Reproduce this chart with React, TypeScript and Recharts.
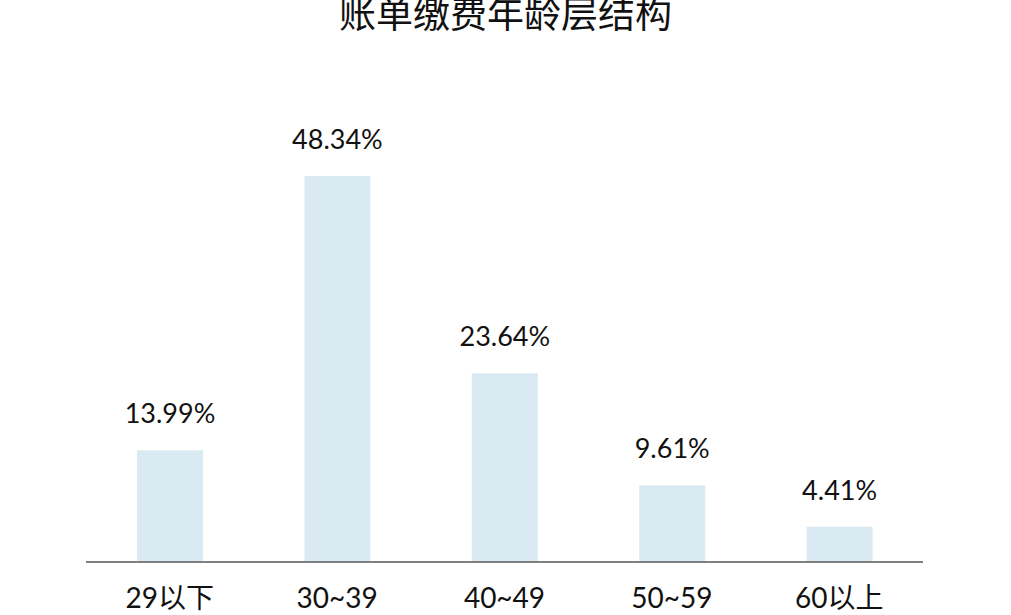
import React from "react";
import { BarChart, Bar, XAxis, YAxis, LabelList } from "recharts";

const categories = ["29以下", "30~39", "40~49", "50~59", "60以上"];
const shares = [13.99, 48.34, 23.64, 9.61, 4.41];
const valueLabels = ["13.99%", "48.34%", "23.64%", "9.61%", "4.41%"];
const title = "账单缴费年龄层结构";

const data = categories.map((c, i) => ({ name: c, value: shares[i], label: valueLabels[i] }));

const FONT = "Lato, 'Noto Sans CJK SC', sans-serif";

export default function App() {
  return (
    <div style={{ position: "absolute", left: 0, top: 0, width: 1011, height: 615, background: "#fff", overflow: "hidden" }}>
      <div
        style={{
          position: "absolute",
          left: 0,
          width: 1011,
          top: -12,
          textAlign: "center",
          fontFamily: "'Noto Sans CJK SC', sans-serif",
          fontSize: 37,
          lineHeight: "48px",
          color: "#111",
        }}
      >
        {title}
      </div>
      <BarChart
        width={1011}
        height={615}
        data={data}
        margin={{ top: 83, right: 88, bottom: 0, left: 86 }}
      >
        <YAxis hide domain={[0, 60]} />
        <XAxis
          dataKey="name"
          height={53}
          axisLine={{ stroke: "#808080", strokeWidth: 2 }}
          tickLine={false}
          tickSize={0}
          tickMargin={26}
          tick={{ fill: "#111", fontSize: 28, fontFamily: FONT }}
          interval={0}
        />
        <Bar dataKey="value" fill="#DAEAF2" barSize={66} isAnimationActive={false}>
          <LabelList
            dataKey="label"
            position="top"
            offset={27}
            style={{ fill: "#111", fontSize: 27, fontFamily: FONT }}
          />
        </Bar>
      </BarChart>
    </div>
  );
}
